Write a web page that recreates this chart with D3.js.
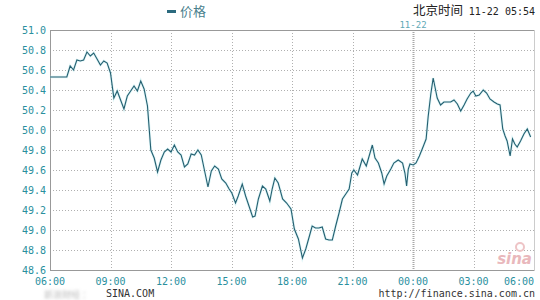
<!DOCTYPE html>
<html>
<head>
<meta charset="utf-8">
<script src="https://cdn.jsdelivr.net/npm/d3@7"></script>
<style>
  body { margin: 0; background: #fff; }
  svg text { font-family: "DejaVu Sans Mono", monospace; }
</style>
</head>
<body>
<div id="main"></div>
<script>
const ctx = {
    w: 540,
    h: 300,
    left: 50,
    right: 534,
    top: 30,
    bottom: 270,
    LINE_COLOR: "#245f70",
    TICK_COLOR: "#2a8f9e",
    GRID_COLOR: "#b0b0b0",
};

// minutes since 06:00 (11-21) and price
const minutes = [
    0, 50, 60, 70, 80, 90, 100, 110, 120, 130, 140, 150, 160, 170, 180, 190, 200, 210, 220, 230,
    240, 250, 260, 270, 280, 290, 300, 310, 320, 330, 340, 350, 360, 370, 380, 390, 400, 410, 420, 430,
    440, 450, 460, 470, 480, 490, 501, 511, 523, 533, 541, 552, 560, 572, 582, 592, 603, 610, 620, 632,
    642, 654, 661, 669, 679, 692, 704, 717, 727, 739, 751, 761, 771, 780, 790, 800, 810, 820, 830, 840,
    850, 860, 870, 880, 890, 898, 904, 915, 929, 941, 959, 967, 977, 987, 994, 1002, 1014, 1023, 1036, 1049,
    1056, 1061, 1066, 1071, 1081, 1089, 1099, 1111, 1119, 1125, 1133, 1140, 1146, 1152, 1162, 1172, 1182, 1192, 1202, 1212,
    1222, 1232, 1241, 1252, 1259, 1267, 1277, 1289, 1299, 1309, 1321, 1331, 1339, 1347, 1354, 1360, 1369, 1376, 1383, 1390,
    1400, 1410, 1420, 1430
];
const prices = [
    50.53, 50.53, 50.64, 50.60, 50.70, 50.69, 50.70, 50.78, 50.74, 50.77, 50.71, 50.65, 50.69, 50.67, 50.57, 50.32, 50.39, 50.30, 50.21, 50.34,
    50.39, 50.44, 50.39, 50.49, 50.41, 50.24, 49.80, 49.72, 49.58, 49.70, 49.78, 49.81, 49.78, 49.85, 49.78, 49.75, 49.63, 49.66, 49.76, 49.75,
    49.80, 49.75, 49.59, 49.43, 49.59, 49.64, 49.61, 49.51, 49.47, 49.41, 49.37, 49.27, 49.34, 49.46, 49.34, 49.24, 49.13, 49.14, 49.31, 49.44,
    49.41, 49.29, 49.41, 49.52, 49.47, 49.31, 49.27, 49.21, 49.01, 48.91, 48.72, 48.81, 48.93, 49.04, 49.02, 49.02, 49.03, 48.91, 48.90, 48.90,
    49.04, 49.17, 49.31, 49.36, 49.41, 49.57, 49.60, 49.55, 49.71, 49.64, 49.85, 49.72, 49.67, 49.57, 49.46, 49.54, 49.61, 49.67, 49.70, 49.67,
    49.57, 49.44, 49.61, 49.66, 49.65, 49.67, 49.74, 49.84, 49.91, 50.13, 50.36, 50.52, 50.42, 50.32, 50.25, 50.28, 50.28, 50.28, 50.30, 50.26,
    50.19, 50.25, 50.31, 50.37, 50.39, 50.34, 50.35, 50.40, 50.37, 50.31, 50.28, 50.26, 50.25, 50.01, 49.94, 49.89, 49.74, 49.91, 49.86, 49.83,
    49.89, 49.96, 50.01, 49.93
];

const xTickMinutes = [0, 180, 360, 540, 720, 900, 1080, 1260, 1440];
const xTickLabels = ["06:00", "09:00", "12:00", "15:00", "18:00", "21:00", "00:00", "03:00", "06:00"];
const yTicks = [48.6, 48.8, 49.0, 49.2, 49.4, 49.6, 49.8, 50.0, 50.2, 50.4, 50.6, 50.8, 51.0];
const dayBreak = 1080; // 00:00 of 11-22

function createViz(){
    const svg = d3.select("#main").append("svg")
        .attr("width", ctx.w)
        .attr("height", ctx.h);

    const x = d3.scaleLinear().domain([0, 1440]).range([ctx.left, ctx.right]);
    const y = d3.scaleLinear().domain([48.6, 51.0]).range([ctx.bottom, ctx.top]);

    // grid
    const grid = svg.append("g").attr("id", "grid");
    grid.selectAll("line.h")
        .data(yTicks.filter(d => d > 48.6 && d < 51.0))
        .enter().append("line")
        .attr("class", "h")
        .attr("x1", ctx.left).attr("x2", ctx.right)
        .attr("y1", d => Math.round(y(d)) + 0.5).attr("y2", d => Math.round(y(d)) + 0.5)
        .attr("stroke", ctx.GRID_COLOR)
        .attr("stroke-dasharray", "1,2");
    grid.selectAll("line.v")
        .data(xTickMinutes.filter(d => d > 0 && d < 1440))
        .enter().append("line")
        .attr("class", "v")
        .attr("x1", d => Math.round(x(d)) + 0.5).attr("x2", d => Math.round(x(d)) + 0.5)
        .attr("y1", ctx.top).attr("y2", ctx.bottom)
        .attr("stroke", d => d === dayBreak ? "#a8a8a8" : ctx.GRID_COLOR)
        .attr("stroke-width", d => d === dayBreak ? 2 : 1)
        .attr("stroke-dasharray", d => d === dayBreak ? "1,1" : "1,2");

    // frame
    svg.append("line").attr("x1", ctx.left).attr("x2", ctx.right + 1)
        .attr("y1", ctx.top + 0.5).attr("y2", ctx.top + 0.5).attr("stroke", "#999");
    svg.append("line").attr("x1", ctx.left).attr("x2", ctx.right + 1)
        .attr("y1", ctx.bottom + 0.5).attr("y2", ctx.bottom + 0.5).attr("stroke", "#999");
    svg.append("line").attr("x1", ctx.left + 0.5).attr("x2", ctx.left + 0.5)
        .attr("y1", ctx.top).attr("y2", ctx.bottom + 1).attr("stroke", "#999");
    svg.append("line").attr("x1", ctx.right + 0.5).attr("x2", ctx.right + 0.5)
        .attr("y1", ctx.top).attr("y2", ctx.bottom + 1).attr("stroke", "#ccc");

    // sina watermark
    svg.append("text")
        .attr("x", 532).attr("y", 264)
        .attr("text-anchor", "end")
        .style("font-family", "DejaVu Sans")
        .style("font-style", "italic")
        .style("font-weight", "bold")
        .style("font-size", "15px")
        .attr("fill", "#e9b8bc")
        .text("sina");
    svg.append("circle").attr("cx", 520).attr("cy", 247).attr("r", 4)
        .attr("fill", "none").attr("stroke", "#eec4c6").attr("stroke-width", 2);

    // price line
    const pts = minutes.map((m, i) => [m, prices[i]]);
    const line = d3.line().x(d => x(d[0])).y(d => y(d[1]));
    svg.append("path")
        .datum(pts)
        .attr("d", line)
        .attr("fill", "none")
        .attr("stroke", "#c8eef2")
        .attr("stroke-width", 2.6)
        .attr("stroke-opacity", 0.6);
    svg.append("path")
        .datum(pts)
        .attr("d", line)
        .attr("fill", "none")
        .attr("stroke", ctx.LINE_COLOR)
        .attr("stroke-width", 1.1);

    // y axis labels
    svg.append("g").selectAll("text")
        .data(yTicks)
        .enter().append("text")
        .attr("x", 46)
        .attr("y", d => y(d))
        .attr("dy", "0.35em")
        .attr("text-anchor", "end")
        .style("font-size", "10px")
        .attr("fill", ctx.TICK_COLOR)
        .text(d => d.toFixed(1));

    // x axis labels
    svg.append("g").selectAll("text")
        .data(xTickMinutes)
        .enter().append("text")
        .attr("x", (d, i) => i === xTickMinutes.length - 1 ? 534 : x(d))
        .attr("y", 281)
        .attr("dy", "0.35em")
        .attr("text-anchor", (d, i) => i === xTickMinutes.length - 1 ? "end" : "middle")
        .style("font-size", "10px")
        .attr("fill", ctx.TICK_COLOR)
        .text((d, i) => xTickLabels[i]);

    // date label above the day break
    svg.append("text")
        .attr("x", x(dayBreak)).attr("y", 24.5)
        .attr("dy", "0.35em")
        .attr("text-anchor", "middle")
        .style("font-size", "9px")
        .attr("fill", "#5fa9b6")
        .text("11-22");

    // legend
    svg.append("rect").attr("x", 167).attr("y", 10).attr("width", 9).attr("height", 3)
        .attr("fill", "#2b6a7e");
    svg.append("text")
        .attr("x", 180).attr("y", 11.5)
        .attr("dy", "0.35em")
        .style("font-family", "Noto Sans CJK SC")
        .style("font-size", "13px")
        .attr("fill", "#4a7f8d")
        .text("价格");

    // header time
    svg.append("text")
        .attr("x", 535).attr("y", 11.5)
        .attr("dy", "0.35em")
        .attr("text-anchor", "end")
        .style("font-size", "10px")
        .attr("fill", "#222")
        .text("11-22 05:54");
    svg.append("text")
        .attr("x", 463).attr("y", 10.5)
        .attr("dy", "0.35em")
        .attr("text-anchor", "end")
        .style("font-family", "Noto Sans CJK SC")
        .style("font-size", "12.5px")
        .attr("fill", "#222")
        .text("北京时间");

    // footer
    const defs = svg.append("defs");
    defs.append("filter").attr("id", "blur")
        .append("feGaussianBlur").attr("stdDeviation", 1.4);
    svg.append("text")
        .attr("x", 44).attr("y", 295)
        .attr("dy", "0.35em")
        .attr("filter", "url(#blur)")
        .style("font-family", "Noto Sans CJK SC")
        .style("font-size", "9px")
        .attr("fill", "#bbb")
        .text("新浪财经 ：");
    svg.append("text")
        .attr("x", 106).attr("y", 293)
        .attr("dy", "0.35em")
        .style("font-size", "10px")
        .attr("fill", "#333")
        .text("SINA.COM");
    svg.append("text")
        .attr("x", 535).attr("y", 293)
        .attr("dy", "0.35em")
        .attr("text-anchor", "end")
        .style("font-size", "10px")
        .attr("fill", "#333")
        .text("http://finance.sina.com.cn");
}

createViz();
</script>
</body>
</html>
